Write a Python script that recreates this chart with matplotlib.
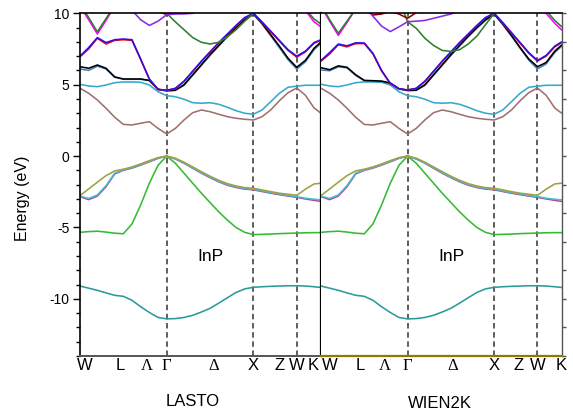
import matplotlib
matplotlib.use("Agg")
import matplotlib.pyplot as plt
from matplotlib.ticker import MultipleLocator

plt.rcParams["font.family"] = ["Liberation Sans", "DejaVu Sans"]
plt.rcParams["axes.unicode_minus"] = False

# ── k-path coordinate (Gamma-X distance = 1) ────────────────────────────
K_PTS = [0.0, 0.1, 0.2, 0.3, 0.4, 0.5, 0.6, 0.7, 0.8, 0.9,
         1.0, 1.1, 1.2, 1.3, 1.4, 1.5, 1.6, 1.7, 1.8, 1.9,
         2.0, 2.1, 2.2, 2.3, 2.4, 2.5, 2.6, 2.7, 2.78]

# ── bands (eV); 11.0 = above the window ────────────────────────────────
# same in both panels
S_BAND = [-9.1, -9.25, -9.4, -9.58, -9.75, -9.82, -10.1, -10.55, -10.95, -11.3,
          -11.4, -11.38, -11.3, -11.15, -10.92, -10.66, -10.3, -9.92, -9.55, -9.3,
          -9.19, -9.15, -9.12, -9.1, -9.08, -9.08, -9.1, -9.15, -9.2]
GREEN_VB = [-5.34, -5.29, -5.26, -5.32, -5.4, -5.44, -4.75, -3.42, -1.9, -0.65,
            0.0, -0.5, -1.2, -1.9, -2.6, -3.25, -3.9, -4.48, -5.0, -5.34,
            -5.5, -5.48, -5.46, -5.43, -5.41, -5.39, -5.37, -5.36, -5.36]
OLIVE_VB = [-2.77, -2.3, -1.83, -1.37, -1.04, -0.92, -0.76, -0.55, -0.32, -0.11,
            0.0, -0.15, -0.43, -0.76, -1.09, -1.41, -1.69, -1.93, -2.09, -2.21,
            -2.25, -2.37, -2.49, -2.6, -2.67, -2.75, -2.32, -1.95, -1.9]
CYAN_VB = [-2.8, -2.97, -2.72, -2.07, -1.2, -0.97, -0.81, -0.6, -0.37, -0.14,
           0.0, -0.19, -0.48, -0.82, -1.17, -1.48, -1.76, -2.0, -2.16, -2.27,
           -2.32, -2.44, -2.56, -2.66, -2.76, -2.84, -2.95, -3.02, -3.07]
PINK_VB = [-2.84, -3.05, -2.8, -2.15, -1.25, -1.0, -0.84, -0.63, -0.4, -0.16,
           0.0, -0.2, -0.5, -0.85, -1.2, -1.51, -1.8, -2.04, -2.2, -2.31,
           -2.36, -2.48, -2.6, -2.7, -2.8, -2.89, -3.0, -3.1, -3.17]
BROWN_CB = [4.75, 4.4, 3.93, 3.35, 2.72, 2.22, 2.18, 2.3, 2.41, 1.94,
            1.55, 1.94, 2.53, 3.04, 3.23, 3.11, 2.93, 2.76, 2.65, 2.58,
            2.53, 2.76, 3.23, 3.88, 4.44, 4.77, 4.26, 3.37, 3.0]
CYAN_CB = [5.03, 4.91, 4.86, 4.98, 5.14, 5.19, 5.19, 5.17, 4.98, 4.51,
           4.23, 4.16, 3.98, 3.74, 3.7, 3.74, 3.63, 3.42, 3.18, 3.0,
           2.93, 3.23, 3.81, 4.4, 4.82, 4.9, 4.96, 4.96, 4.96]

# LASTO upper conduction bands
BLACK_L = [6.26, 6.15, 6.38, 6.15, 5.55, 5.4, 5.4, 5.4, 5.3, 4.68,
           4.58, 4.62, 5.0, 5.7, 6.4, 7.1, 7.75, 8.4, 9.0, 9.55,
           9.95, 9.3, 8.5, 7.7, 6.85, 6.22, 6.7, 7.55, 7.99]
STEEL_L = [6.1, 6.0, 6.3, 6.1, 5.52, 5.38, 5.38, 5.38, 5.28, 4.66,
           4.56, 4.6, 4.95, 5.65, 6.35, 7.05, 7.7, 8.35, 8.95, 9.5,
           9.95, 9.25, 8.43, 7.6, 6.75, 6.1, 6.6, 7.45, 7.9]
BLUE_L = [7.0, 7.6, 8.3, 7.95, 8.15, 8.2, 8.15, 6.8, 5.4, 4.68,
          4.6, 4.75, 5.25, 5.95, 6.65, 7.3, 7.95, 8.55, 9.15, 9.7,
          10.0, 9.4, 8.75, 8.1, 7.45, 7.0, 7.35, 7.95, 8.15]
RED_L = [6.95, 7.5, 8.25, 7.85, 8.1, 8.15, 8.1, 6.75, 5.38, 4.66,
         4.6, 4.73, 5.22, 5.92, 6.62, 7.27, 7.92, 8.52, 9.12, 9.68,
         10.0, 9.35, 8.7, 8.05, 7.4, 6.93, 7.3, 7.9, 8.1]
GREEN_L = [10.7, 9.7, 8.7, 9.63, 10.55, 11.0, 11.0, 11.0, 11.0, 10.7,
           10.0, 9.4, 8.85, 8.3, 7.97, 7.85, 7.97, 8.35, 8.85, 9.45,
           10.0, 10.7, 11.0, 11.0, 11.0, 11.0, 10.3, 9.6, 9.25]
MAGENTA_L = [10.5, 9.55, 8.55, 9.5, 10.5, 11.0, 11.0, 11.0, 11.0, 11.0,
             11.0, 11.0, 11.0, 11.0, 11.0, 11.0, 11.0, 11.0, 11.0, 11.0,
             11.0, 11.0, 11.0, 11.0, 11.0, 11.0, 10.2, 9.4, 9.05]
PURPLE_L = [11.0, 11.0, 11.0, 11.0, 11.0, 11.0, 10.2, 9.55, 9.15, 9.45,
            9.9, 9.95, 9.96, 10.0, 10.4, 11.0, 11.0, 11.0, 11.0, 11.0,
            11.0, 11.0, 11.0, 11.0, 11.0, 11.0, 11.0, 11.0, 11.0]
DARKRED_L = [11.0, 11.0, 11.0, 11.0, 11.0, 11.0, 11.0, 11.0, 11.0, 10.15,
             9.9, 10.15, 11.0, 11.0, 11.0, 11.0, 11.0, 11.0, 11.0, 11.0,
             11.0, 11.0, 11.0, 11.0, 11.0, 11.0, 11.0, 11.0, 11.0]

# WIEN2K upper conduction bands
BLACK_W = [6.19, 6.05, 6.32, 6.22, 5.7, 5.3, 5.28, 5.25, 5.12, 4.72,
           4.6, 4.62, 5.0, 5.7, 6.4, 7.1, 7.75, 8.4, 9.0, 9.55,
           9.95, 9.25, 8.45, 7.6, 6.8, 6.26, 6.55, 7.35, 7.78]
STEEL_W = [6.03, 5.98, 6.25, 6.18, 5.65, 5.28, 5.26, 5.23, 5.1, 4.7,
           4.58, 4.6, 4.95, 5.65, 6.35, 7.05, 7.7, 8.35, 8.95, 9.5,
           9.95, 9.2, 8.4, 7.55, 6.72, 6.1, 6.45, 7.25, 7.7]
BLUE_W = [6.7, 7.25, 7.85, 7.72, 7.93, 7.92, 7.2, 6.0, 5.1, 4.72,
          4.63, 4.75, 5.25, 5.95, 6.65, 7.3, 7.95, 8.55, 9.15, 9.7,
          10.0, 9.35, 8.65, 7.95, 7.25, 6.7, 7.05, 7.7, 8.0]
RED_W = [6.65, 7.15, 7.8, 7.65, 7.88, 7.88, 7.15, 5.95, 5.08, 4.7,
         4.63, 4.73, 5.22, 5.92, 6.62, 7.27, 7.92, 8.52, 9.12, 9.68,
         10.0, 9.3, 8.6, 7.9, 7.2, 6.65, 7.0, 7.65, 7.95]
GREEN_W = [10.6, 9.55, 8.6, 9.45, 10.3, 11.0, 11.0, 11.0, 11.0, 11.0,
           9.41, 8.95, 8.25, 7.75, 7.4, 7.33, 7.45, 7.85, 8.4, 9.2,
           10.0, 10.7, 11.0, 11.0, 11.0, 11.0, 10.2, 9.5, 9.06]
MAGENTA_W = [10.5, 9.45, 8.45, 9.35, 10.3, 11.0, 11.0, 11.0, 11.0, 11.0,
             11.0, 11.0, 11.0, 11.0, 11.0, 11.0, 11.0, 11.0, 11.0, 11.0,
             11.0, 11.0, 11.0, 11.0, 11.0, 11.0, 10.0, 9.3, 8.83]
PURPLE_W = [11.0, 11.0, 11.0, 11.0, 11.0, 10.5, 9.8, 9.1, 8.72, 9.05,
            9.41, 9.45, 9.5, 9.65, 9.8, 9.95, 10.2, 11.0, 11.0, 11.0,
            11.0, 11.0, 11.0, 11.0, 11.0, 11.0, 11.0, 11.0, 11.0]
DARKRED_W = [11.0, 11.0, 11.0, 11.0, 11.0, 10.3, 9.88, 9.95, 10.15, 9.95,
             9.65, 10.05, 10.5, 11.0, 11.0, 11.0, 11.0, 11.0, 11.0, 11.0,
             11.0, 11.0, 11.0, 11.0, 11.0, 11.0, 11.0, 11.0, 11.0]

# ── labels ──────────────────────────────────────────────────────────────
XT_LABELS = ["W", "L", "Λ", "Γ", "Δ", "X", "Z", "W", "K"]
XT_POS_LASTO = [0.05, 0.47, 0.77, 1.0, 1.545, 2.0, 2.3, 2.5, 2.69]
XT_POS_WIEN = [0.1, 0.45, 0.74, 1.0, 1.52, 2.0, 2.28, 2.5, 2.775]
SYM_LINES = [1.0, 2.0, 2.5]
YLIM = (-14, 10)
XLIM = (0, 2.78)

# ── colours ─────────────────────────────────────────────────────────────
C_S = "#2a9a9a"
C_GREEN = "#33bb33"
C_OLIVE = "#a0a040"
C_CYAN_V = "#40c0d0"
C_PINK = "#c03c96"
C_BROWN = "#a07070"
C_CYAN_C = "#36a9c9"
C_STEEL = "#4f7fb5"
C_BLUE = "#2a10f0"
C_DKGREEN = "#2f7f2f"
C_PURPLE = "#8a2be2"
C_DKRED = "#8b0000"


def draw_panel(ax, upper, xt_pos, lw=1.15):
    shared = [(S_BAND, C_S), (GREEN_VB, C_GREEN), (PINK_VB, C_PINK),
              (CYAN_VB, C_CYAN_V), (OLIVE_VB, C_OLIVE),
              (BROWN_CB, C_BROWN), (CYAN_CB, C_CYAN_C)]
    for vals, col in shared + upper:
        ax.plot(K_PTS, vals, color=col, lw=lw, solid_capstyle="round")

    for k in SYM_LINES:
        ax.axvline(k, color="#333333", lw=1.1, ls=(0, (3.6, 2.4)), zorder=0.5)

    ax.text(1.51, -7.0, "InP", fontsize=12.5, ha="center", va="center")

    ax.set_xlim(*XLIM)
    ax.set_ylim(*YLIM)
    ax.set_xticks(xt_pos)
    ax.set_xticklabels(XT_LABELS)
    ax.tick_params(axis="x", length=0, pad=1.5, labelsize=12)
    for lab in ax.get_xticklabels():
        if lab.get_text() in ("Λ", "Γ", "Δ"):
            lab.set_fontfamily("Liberation Serif")


fig = plt.figure(figsize=(5.73, 4.12), dpi=100)
bot = (412 - 356) / 412
hgt = 342.7 / 412
ax1 = fig.add_axes([80 / 573, bot, 241 / 573, hgt])
ax2 = fig.add_axes([321 / 573, bot, 240.7 / 573, hgt])

draw_panel(ax1, [(STEEL_L, C_STEEL), (BLACK_L, "black"), (RED_L, "red"),
                 (BLUE_L, C_BLUE), (MAGENTA_L, "magenta"),
                 (GREEN_L, C_DKGREEN), (DARKRED_L, C_DKRED),
                 (PURPLE_L, C_PURPLE)], XT_POS_LASTO)
draw_panel(ax2, [(STEEL_W, C_STEEL), (BLACK_W, "black"), (RED_W, "red"),
                 (BLUE_W, C_BLUE), (MAGENTA_W, "magenta"),
                 (GREEN_W, C_DKGREEN), (DARKRED_W, C_DKRED),
                 (PURPLE_W, C_PURPLE)], XT_POS_WIEN)

# left panel: energy axis
ax1.yaxis.set_major_locator(MultipleLocator(5))
ax1.yaxis.set_minor_locator(MultipleLocator(1))
ax1.tick_params(axis="y", which="major", direction="out", length=5, width=1,
                labelsize=10, pad=2.5)
ax1.tick_params(axis="y", which="minor", direction="out", length=3, width=1)
for side in ("left", "top"):
    ax1.spines[side].set_color("black")
    ax1.spines[side].set_linewidth(1.2)
ax1.spines["right"].set_color("black")
ax1.spines["right"].set_linewidth(1.6)
ax1.spines["bottom"].set_color("#555555")
ax1.spines["bottom"].set_linewidth(1.4)

# right panel
ax2.yaxis.tick_right()
ax2.yaxis.set_major_locator(MultipleLocator(2))
ax2.tick_params(axis="y", direction="out", length=3, width=1,
                color="#555555", labelright=False)
ax2.spines["left"].set_visible(False)
ax2.spines["top"].set_color("black")
ax2.spines["top"].set_linewidth(1.2)
ax2.spines["right"].set_color("#555555")
ax2.spines["right"].set_linewidth(1.0)
ax2.spines["bottom"].set_color("#8a7c00")
ax2.spines["bottom"].set_linewidth(1.6)

fig.text(23 / 573, 1 - 198 / 412, "Energy (eV)", rotation=90,
         ha="center", va="center", fontsize=11.5)
fig.text(193 / 573, 1 - 402 / 412, "LASTO", ha="center", va="center",
         fontsize=12)
fig.text(440 / 573, 1 - 403 / 412, "WIEN2K", ha="center", va="center",
         fontsize=12)

fig.savefig("out.png", dpi=100)
